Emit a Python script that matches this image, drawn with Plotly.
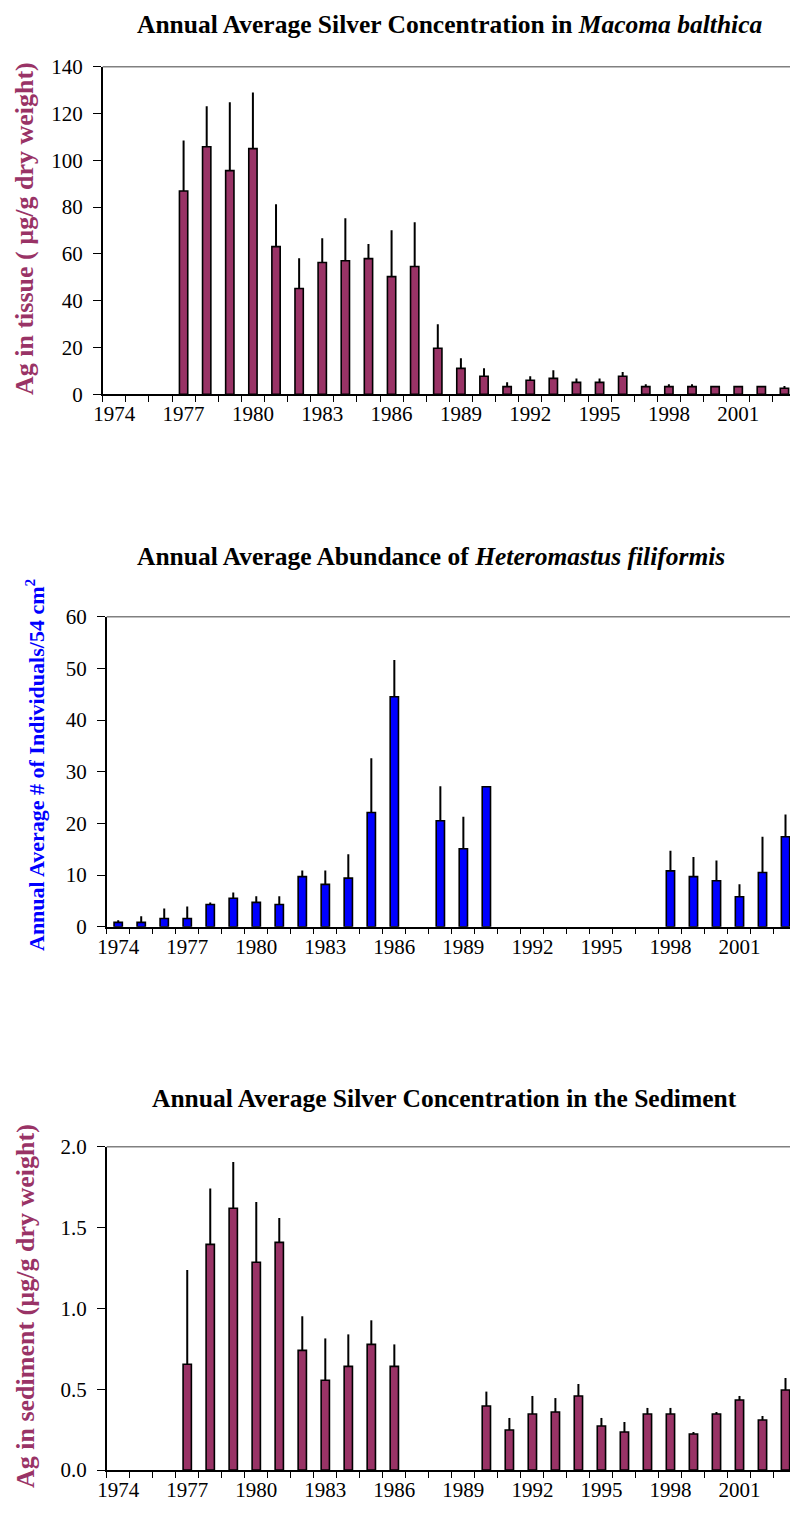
import plotly.graph_objects as go

years = list(range(1974, 2004))

# Panel 1: Ag in Macoma balthica tissue (ug/g dry weight)
tissue_val = [None, None, None, 86.9, 105.8, 95.6, 105.0, 63.1, 45.2, 56.3, 57.1, 58.0, 50.3, 54.6,
              19.7, 11.1, 7.7, 3.3, 6.0, 6.8, 5.1, 5.1, 7.7, 3.3, 3.3, 3.3, 3.3, 3.3, 3.3, 2.6]
tissue_err = [0, 0, 0, 21.6, 17.3, 29.2, 24.0, 18.1, 12.9, 10.4, 18.1, 6.2, 19.8, 18.9,
              10.2, 4.3, 3.4, 1.8, 1.7, 3.5, 1.7, 1.7, 1.8, 1.0, 1.0, 1.0, 0.3, 0.3, 0.3, 1.0]

# Panel 2: Heteromastus filiformis abundance (#/54 cm2)
abund_val = [0.84, 0.84, 1.6, 1.6, 4.3, 5.5, 4.7, 4.3, 9.7, 8.2, 9.4, 22.1, 44.5, None,
             20.5, 15.1, 27.1, None, None, None, None, None, None, None,
             10.8, 9.7, 8.9, 5.8, 10.5, 17.4]
abund_err = [0.4, 1.2, 1.9, 2.3, 0.4, 1.1, 1.2, 1.6, 1.2, 2.7, 4.6, 10.5, 7.1, 0,
             6.7, 6.2, 0, 0, 0, 0, 0, 0, 0, 0,
             3.9, 3.8, 3.9, 2.4, 6.9, 4.3]

# Panel 3: Ag in sediment (ug/g dry weight)
sed_val = [None, None, None, 0.654, 1.396, 1.619, 1.285, 1.408, 0.740, 0.555, 0.641, 0.777, 0.641,
           None, None, None, 0.396, 0.247, 0.346, 0.359, 0.458, 0.272, 0.235, 0.346, 0.346,
           0.223, 0.346, 0.433, 0.309, 0.495]
sed_err = [0, 0, 0, 0.583, 0.346, 0.286, 0.373, 0.151, 0.211, 0.259, 0.198, 0.149, 0.136,
           0, 0, 0, 0.089, 0.075, 0.112, 0.086, 0.074, 0.05, 0.062, 0.038, 0.038,
           0.012, 0.013, 0.025, 0.025, 0.074]

label_years = [1974, 1977, 1980, 1983, 1986, 1989, 1992, 1995, 1998, 2001]

MAROON = "#993366"
BLUE = "#0000FF"
FONT = "Liberation Serif"
OFF = 8            # page body margin offset
W, H = 790, 1507   # figure size so it ends at the window edge


def px_x(a, b):
    return [(a - OFF) / W, (b - OFF) / W]


def px_y(top, bottom):
    return [1 - (bottom - OFF) / H, 1 - (top - OFF) / H]


def pt(x, y):
    return (x - OFF) / W, 1 - (y - OFF) / H


fig = go.Figure()

panels = [
    ("x", "y", tissue_val, tissue_err, MAROON),
    ("x2", "y2", abund_val, abund_err, BLUE),
    ("x3", "y3", sed_val, sed_err, MAROON),
]
for xa, ya, vals, errs, col in panels:
    fig.add_trace(go.Bar(
        x=years, y=vals, xaxis=xa, yaxis=ya, width=0.36,
        marker=dict(color=col, line=dict(color="black", width=1.6)),
        error_y=dict(type="data", symmetric=False, array=errs,
                     arrayminus=[0] * len(errs), width=0, thickness=2, color="black"),
        showlegend=False, hoverinfo="x+y",
    ))

tickfont = dict(family=FONT, size=21, color="black")

xcommon = dict(
    range=[1973.5, 2003.5], tickmode="array", tickvals=label_years,
    ticktext=[str(y) for y in label_years], ticks="", showgrid=False, zeroline=False,
    showline=True, linecolor="black", linewidth=1.5, tickfont=tickfont, automargin=False,
    minor=dict(tickmode="array", tickvals=[1973.5 + i for i in range(31)], ticks="outside",
               ticklen=6, tickwidth=1.2, tickcolor="black", showgrid=False),
)
ycommon = dict(
    showgrid=False, zeroline=False, showline=True, linecolor="black", linewidth=1.5,
    ticks="outside", ticklen=8, tickwidth=1.2, tickcolor="black", tickfont=tickfont,
    ticklabelstandoff=6, automargin=False,
)

fig.update_layout(
    width=W, height=H, autosize=False,
    margin=dict(l=0, r=0, t=0, b=0, pad=0),
    paper_bgcolor="white", plot_bgcolor="white",
    xaxis=dict(domain=px_x(102.7, 796), anchor="y", **xcommon),
    yaxis=dict(domain=px_y(66.7, 394.3), anchor="x", range=[0, 140], dtick=20, **ycommon),
    xaxis2=dict(domain=px_x(106.7, 797), anchor="y2", **xcommon),
    yaxis2=dict(domain=px_y(616.7, 926.7), anchor="x2", range=[0, 60], dtick=10, **ycommon),
    xaxis3=dict(domain=px_x(106.7, 797), anchor="y3", **xcommon),
    yaxis3=dict(domain=px_y(1146.7, 1470), anchor="x3", range=[0, 2.0], dtick=0.5,
                tickformat=".1f", **ycommon),
)

# plot-area borders (top & right, grey)
for xa, ya in [("x", "y"), ("x2", "y2"), ("x3", "y3")]:
    fig.add_shape(type="line", xref=f"{xa} domain", yref=f"{ya} domain",
                  x0=0, x1=1, y0=1, y1=1, line=dict(color="#808080", width=1.5))
    fig.add_shape(type="line", xref=f"{xa} domain", yref=f"{ya} domain",
                  x0=1, x1=1, y0=0, y1=1, line=dict(color="#808080", width=1.5))

titles = [
    ("<b>Annual Average Silver Concentration in <i>Macoma balthica</i></b>", 449, 25),
    ("<b>Annual Average Abundance of <i>Heteromastus filiformis</i></b>", 431, 556),
    ("<b>Annual Average Silver Concentration in the Sediment</b>", 444, 1098),
]
for text, cx, cy in titles:
    ax_, ay_ = pt(cx, cy)
    fig.add_annotation(text=text, x=ax_, y=ay_, xref="paper", yref="paper",
                       showarrow=False, xanchor="center", yanchor="middle", borderpad=0,
                       font=dict(family=FONT, size=25.5, color="black"))

ytitles = [
    ("<b>Ag in tissue ( µg/g dry weight)</b>", 25, 229, MAROON, 26),
    ("<b>Annual Average # of Individuals/54 cm<sup>2</sup></b>", 35, 765, BLUE, 22),
    ("<b>Ag in sediment (µg/g dry weight)</b>", 25, 1306, MAROON, 26),
]
for text, cx, cy, col, fs in ytitles:
    ax_, ay_ = pt(cx, cy)
    fig.add_annotation(text=text, x=ax_, y=ay_, xref="paper", yref="paper",
                       showarrow=False, xanchor="center", yanchor="middle", textangle=-90,
                       font=dict(family=FONT, size=fs, color=col))

fig.write_html("out.html")
